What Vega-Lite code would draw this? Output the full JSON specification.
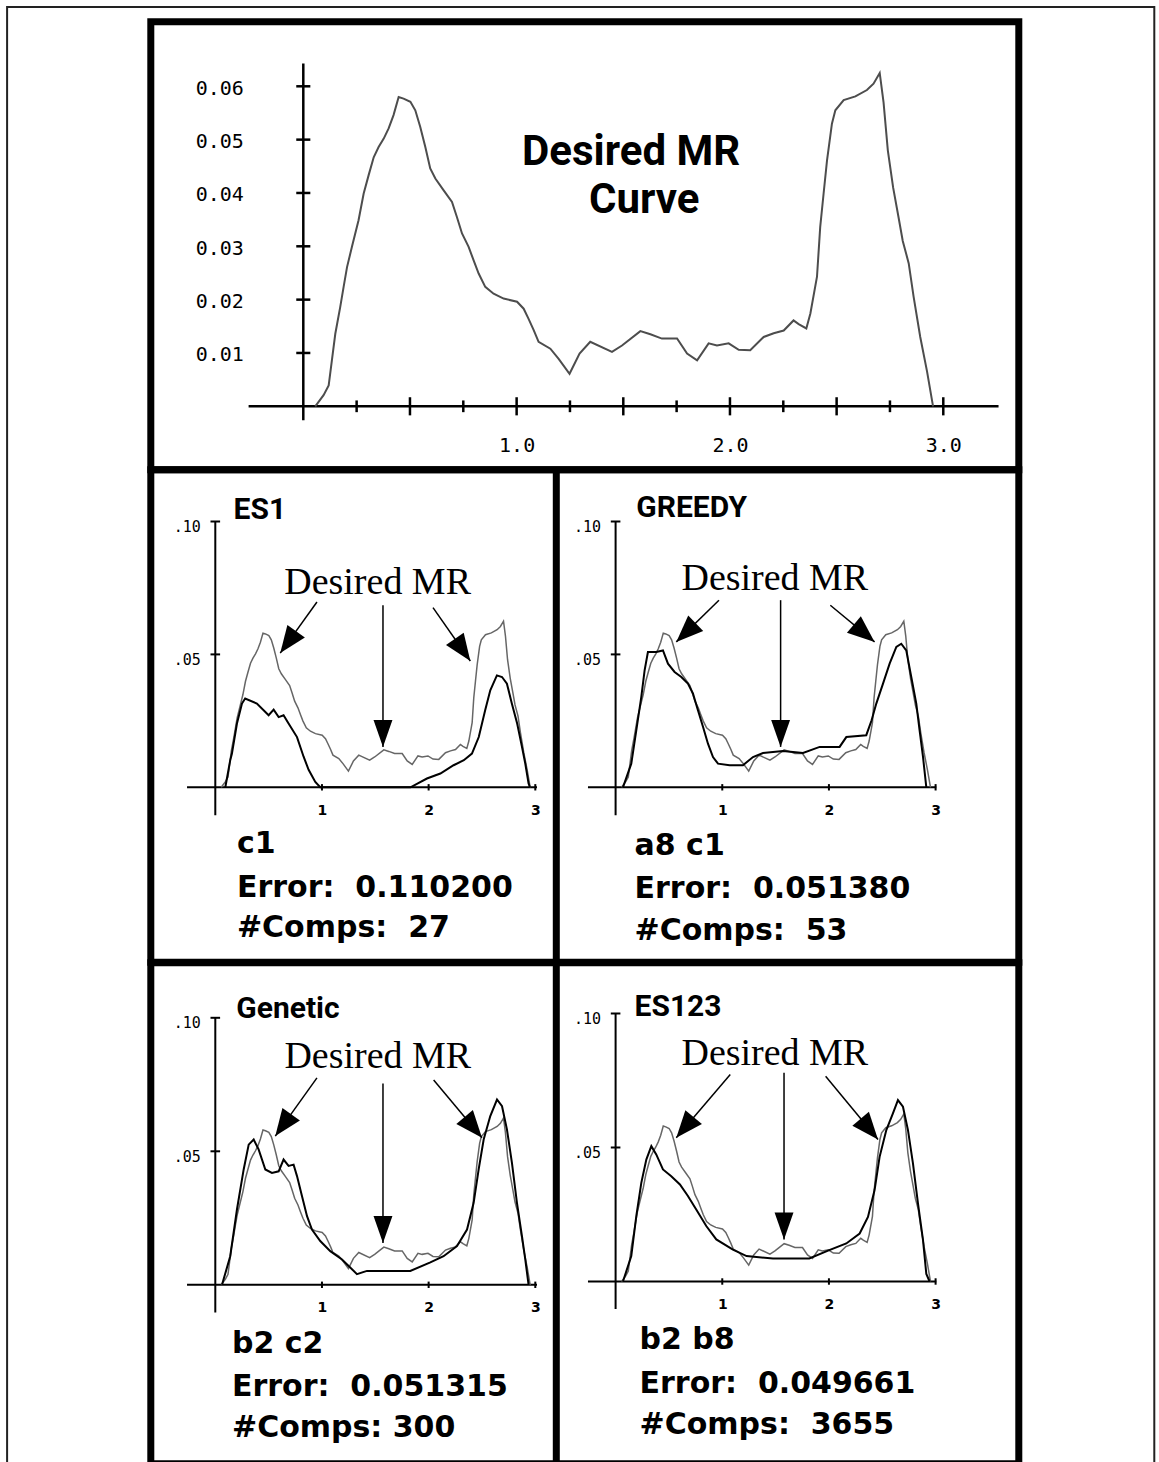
{
"$schema":"https://vega.github.io/schema/vega-lite/v6.json",
"background":"white",
"padding":{"left":1.8,"top":1.8,"right":9.5,"bottom":0},
"config":{"view":{"stroke":"black","strokeWidth":7},"concat":{"spacing":0}},
"datasets":{
"desired":[{"x":0.056,"y":0},{"x":0.095,"y":0.0021},{"x":0.119,"y":0.0039},{"x":0.134,"y":0.0086},{"x":0.15,"y":0.0136},{"x":0.173,"y":0.0186},{"x":0.189,"y":0.0224},{"x":0.205,"y":0.0261},{"x":0.228,"y":0.0299},{"x":0.259,"y":0.0349},{"x":0.283,"y":0.0399},{"x":0.306,"y":0.0433},{"x":0.33,"y":0.0467},{"x":0.353,"y":0.0486},{"x":0.377,"y":0.0502},{"x":0.4,"y":0.0521},{"x":0.423,"y":0.0546},{"x":0.447,"y":0.058},{"x":0.47,"y":0.0577},{"x":0.502,"y":0.0571},{"x":0.525,"y":0.0555},{"x":0.548,"y":0.0524},{"x":0.572,"y":0.0486},{"x":0.595,"y":0.0446},{"x":0.619,"y":0.0427},{"x":0.658,"y":0.0405},{"x":0.697,"y":0.0383},{"x":0.72,"y":0.0355},{"x":0.744,"y":0.0324},{"x":0.775,"y":0.0299},{"x":0.798,"y":0.0274},{"x":0.822,"y":0.0249},{"x":0.853,"y":0.0224},{"x":0.892,"y":0.0211},{"x":0.939,"y":0.0202},{"x":1.002,"y":0.0196},{"x":1.033,"y":0.0183},{"x":1.056,"y":0.0164},{"x":1.08,"y":0.0143},{"x":1.103,"y":0.0121},{"x":1.158,"y":0.0108},{"x":1.197,"y":0.0089},{"x":1.248,"y":0.0061},{"x":1.295,"y":0.0099},{"x":1.345,"y":0.0121},{"x":1.447,"y":0.0102},{"x":1.494,"y":0.0114},{"x":1.58,"y":0.0141},{"x":1.627,"y":0.0135},{"x":1.681,"y":0.0127},{"x":1.752,"y":0.0127},{"x":1.799,"y":0.0099},{"x":1.846,"y":0.0086},{"x":1.9,"y":0.0118},{"x":1.939,"y":0.0114},{"x":1.994,"y":0.0118},{"x":2.041,"y":0.0106},{"x":2.095,"y":0.0105},{"x":2.158,"y":0.013},{"x":2.205,"y":0.0137},{"x":2.252,"y":0.0142},{"x":2.298,"y":0.0161},{"x":2.322,"y":0.0154},{"x":2.358,"y":0.0146},{"x":2.377,"y":0.0174},{"x":2.408,"y":0.0243},{"x":2.423,"y":0.0336},{"x":2.439,"y":0.0399},{"x":2.455,"y":0.0461},{"x":2.478,"y":0.053},{"x":2.494,"y":0.0555},{"x":2.533,"y":0.0574},{"x":2.588,"y":0.0581},{"x":2.642,"y":0.0593},{"x":2.673,"y":0.0605},{"x":2.702,"y":0.0625},{"x":2.72,"y":0.057},{"x":2.74,"y":0.048},{"x":2.765,"y":0.041},{"x":2.79,"y":0.0355},{"x":2.81,"y":0.031},{"x":2.838,"y":0.0268},{"x":2.861,"y":0.0205},{"x":2.892,"y":0.013},{"x":2.924,"y":0.0065},{"x":2.952,"y":0}],
"es1":[{"x":0.094,"y":0},{"x":0.14,"y":0.0102},{"x":0.156,"y":0.0127},{"x":0.203,"y":0.024},{"x":0.25,"y":0.0315},{"x":0.28,"y":0.0334},{"x":0.39,"y":0.0315},{"x":0.5,"y":0.0271},{"x":0.547,"y":0.0292},{"x":0.594,"y":0.0264},{"x":0.64,"y":0.0271},{"x":0.687,"y":0.024},{"x":0.766,"y":0.0189},{"x":0.828,"y":0.0115},{"x":0.875,"y":0.0066},{"x":0.9375,"y":0.002},{"x":0.984,"y":0},{"x":1.83,"y":0},{"x":1.984,"y":0.0033},{"x":2.11,"y":0.0052},{"x":2.234,"y":0.0083},{"x":2.33,"y":0.0102},{"x":2.406,"y":0.0127},{"x":2.47,"y":0.0189},{"x":2.53,"y":0.029},{"x":2.578,"y":0.0365},{"x":2.64,"y":0.0421},{"x":2.688,"y":0.0415},{"x":2.734,"y":0.039},{"x":2.78,"y":0.0315},{"x":2.83,"y":0.024},{"x":2.875,"y":0.0152},{"x":2.906,"y":0.0089},{"x":2.937,"y":0.0014},{"x":2.95,"y":0}],
"greedy":[{"x":0.069,"y":0},{"x":0.147,"y":0.0089},{"x":0.194,"y":0.0214},{"x":0.241,"y":0.034},{"x":0.272,"y":0.044},{"x":0.303,"y":0.0509},{"x":0.381,"y":0.0509},{"x":0.444,"y":0.0515},{"x":0.491,"y":0.0465},{"x":0.553,"y":0.0434},{"x":0.616,"y":0.0415},{"x":0.678,"y":0.039},{"x":0.725,"y":0.0353},{"x":0.772,"y":0.029},{"x":0.82,"y":0.0227},{"x":0.866,"y":0.0164},{"x":0.913,"y":0.0114},{"x":0.96,"y":0.0089},{"x":1.069,"y":0.0083},{"x":1.194,"y":0.0083},{"x":1.288,"y":0.0114},{"x":1.382,"y":0.0129},{"x":1.569,"y":0.0137},{"x":1.757,"y":0.0129},{"x":1.913,"y":0.0152},{"x":2.1,"y":0.0152},{"x":2.163,"y":0.0189},{"x":2.35,"y":0.0196},{"x":2.4,"y":0.0252},{"x":2.444,"y":0.0315},{"x":2.507,"y":0.039},{"x":2.569,"y":0.0465},{"x":2.632,"y":0.0528},{"x":2.678,"y":0.054},{"x":2.725,"y":0.0515},{"x":2.772,"y":0.0415},{"x":2.819,"y":0.0315},{"x":2.85,"y":0.0214},{"x":2.882,"y":0.0114},{"x":2.913,"y":0}],
"genetic":[{"x":0.063,"y":0},{"x":0.14,"y":0.0107},{"x":0.203,"y":0.0282},{"x":0.266,"y":0.0432},{"x":0.313,"y":0.0525},{"x":0.36,"y":0.0544},{"x":0.406,"y":0.0507},{"x":0.469,"y":0.0432},{"x":0.531,"y":0.0419},{"x":0.594,"y":0.0425},{"x":0.64,"y":0.0469},{"x":0.687,"y":0.0445},{"x":0.734,"y":0.045},{"x":0.766,"y":0.0407},{"x":0.813,"y":0.0332},{"x":0.86,"y":0.0257},{"x":0.906,"y":0.0207},{"x":0.984,"y":0.0164},{"x":1.078,"y":0.0126},{"x":1.188,"y":0.0095},{"x":1.328,"y":0.004},{"x":1.422,"y":0.0052},{"x":1.828,"y":0.0052},{"x":2.016,"y":0.0084},{"x":2.14,"y":0.0107},{"x":2.266,"y":0.0145},{"x":2.36,"y":0.0207},{"x":2.422,"y":0.0307},{"x":2.469,"y":0.0432},{"x":2.516,"y":0.0544},{"x":2.578,"y":0.0632},{"x":2.641,"y":0.0694},{"x":2.688,"y":0.0669},{"x":2.734,"y":0.0582},{"x":2.781,"y":0.0457},{"x":2.828,"y":0.0307},{"x":2.875,"y":0.0182},{"x":2.906,"y":0.0095},{"x":2.937,"y":0}],
"es123":[{"x":0.069,"y":0},{"x":0.147,"y":0.0095},{"x":0.194,"y":0.0244},{"x":0.241,"y":0.0368},{"x":0.288,"y":0.0455},{"x":0.335,"y":0.0505},{"x":0.381,"y":0.0474},{"x":0.444,"y":0.0418},{"x":0.522,"y":0.0393},{"x":0.603,"y":0.0362},{"x":0.678,"y":0.0319},{"x":0.756,"y":0.0269},{"x":0.85,"y":0.0207},{"x":0.944,"y":0.0157},{"x":1.1,"y":0.0119},{"x":1.228,"y":0.0095},{"x":1.475,"y":0.0086},{"x":1.816,"y":0.0086},{"x":2.003,"y":0.0117},{"x":2.163,"y":0.0142},{"x":2.288,"y":0.0179},{"x":2.366,"y":0.0241},{"x":2.428,"y":0.0341},{"x":2.475,"y":0.0465},{"x":2.538,"y":0.0565},{"x":2.6,"y":0.0627},{"x":2.647,"y":0.0677},{"x":2.694,"y":0.0652},{"x":2.741,"y":0.0565},{"x":2.788,"y":0.044},{"x":2.835,"y":0.0291},{"x":2.882,"y":0.0154},{"x":2.913,"y":0.0028},{"x":2.944,"y":0}],
"arrows_es1":[{"arrow":"left","x":0.609,"y":0.0505,"x2":0.953,"y2":0.0697},{"arrow":"mid","x":1.572,"y":0.0152,"x2":1.572,"y2":0.0685},{"arrow":"right","x":2.391,"y":0.0475,"x2":2.041,"y2":0.0676}],
"arrows_greedy":[{"arrow":"left","x":0.569,"y":0.0547,"x2":0.969,"y2":0.0704},{"arrow":"mid","x":1.547,"y":0.0152,"x2":1.547,"y2":0.0704},{"arrow":"right","x":2.428,"y":0.0547,"x2":2.013,"y2":0.0685}],
"arrows_genetic":[{"arrow":"left","x":0.5625,"y":0.0557,"x2":0.953,"y2":0.0775},{"arrow":"mid","x":1.572,"y":0.0157,"x2":1.572,"y2":0.0754},{"arrow":"right","x":2.5,"y":0.0551,"x2":2.047,"y2":0.0767}],
"arrows_es123":[{"arrow":"left","x":0.569,"y":0.0536,"x2":1.075,"y2":0.0772},{"arrow":"mid","x":1.579,"y":0.0157,"x2":1.579,"y2":0.0779},{"arrow":"right","x":2.46,"y":0.053,"x2":1.969,"y2":0.0766}]
},
"bounds":"flush",
"spacing":0,
"vconcat":[
{
"width":868,"height":448,
"encoding":{
"x":{"field":"x","type":"quantitative","scale":{"domain":[-0.71486,3.35396],"nice":false,"zero":false},"axis":{"orient":"bottom","offset":-63.5,"values":[1,2,3],"format":".1f","domain":false,"ticks":false,"tickSize":0,"grid":false,"labelPadding":29,"labelFont":"DejaVu Sans Mono","labelFontSize":20,"labelColor":"black","title":null}},
"y":{"field":"y","type":"quantitative","scale":{"domain":[-0.011906,0.072094],"nice":false,"zero":false},"axis":{"orient":"left","offset":-152.5,"values":[0.01,0.02,0.03,0.04,0.05,0.06],"format":".2f","domain":false,"ticks":false,"tickSize":0,"grid":false,"labelPadding":60,"labelOffset":2,"labelFont":"DejaVu Sans Mono","labelFontSize":20,"labelColor":"black","title":null}}
},
"layer":[
{"data":{"values":[{"x":-1.38846,"y":0.07485,"x2":3.98912,"y2":-0.2004}]},"mark":{"type":"rect","filled":false,"color":"#222222","strokeWidth":2},"encoding":{"x2":{"field":"x2"},"y2":{"field":"y2"}}},
{"data":{"values":[{"x":0,"y":-0.002625,"x2":0,"y2":0.06426},{"x":-0.2564,"y":0,"x2":3.259,"y2":0},{"x":0.25,"y":-0.0011,"x2":0.25,"y2":0.0011},{"x":0.5,"y":-0.0017,"x2":0.5,"y2":0.0017},{"x":0.75,"y":-0.0011,"x2":0.75,"y2":0.0011},{"x":1,"y":-0.0017,"x2":1,"y2":0.0017},{"x":1.25,"y":-0.0011,"x2":1.25,"y2":0.0011},{"x":1.5,"y":-0.0017,"x2":1.5,"y2":0.0017},{"x":1.75,"y":-0.0011,"x2":1.75,"y2":0.0011},{"x":2,"y":-0.0017,"x2":2,"y2":0.0017},{"x":2.25,"y":-0.0011,"x2":2.25,"y2":0.0011},{"x":2.5,"y":-0.0017,"x2":2.5,"y2":0.0017},{"x":2.75,"y":-0.0011,"x2":2.75,"y2":0.0011},{"x":3,"y":-0.0017,"x2":3,"y2":0.0017},{"x":-0.033,"y":0.01,"x2":0.033,"y2":0.01},{"x":-0.033,"y":0.02,"x2":0.033,"y2":0.02},{"x":-0.033,"y":0.03,"x2":0.033,"y2":0.03},{"x":-0.033,"y":0.04,"x2":0.033,"y2":0.04},{"x":-0.033,"y":0.05,"x2":0.033,"y2":0.05},{"x":-0.033,"y":0.06,"x2":0.033,"y2":0.06}]},"mark":{"type":"rule","color":"black","strokeWidth":2.5},"encoding":{"x2":{"field":"x2"},"y2":{"field":"y2"}}},
{"data":{"name":"desired"},"mark":{"type":"line","color":"#4d4d4d","strokeWidth":2}},
{"data":{"values":[{"x":1.5366,"y":0.04519,"text":"Desired MR"},{"x":1.598,"y":0.03624,"text":"Curve"}]},"mark":{"type":"text","font":"Roboto","fontWeight":"bold","fontSize":42,"align":"center","baseline":"alphabetic","color":"black"},"encoding":{"text":{"field":"text"}}}
]
},
{
"width":868,"height":492.5,
"resolve":{"scale":{"x":"independent","y":"independent"},"axis":{"x":"independent","y":"independent"}},
"layer":[
{
"encoding":{
"x":{"field":"x","type":"quantitative","scale":{"domain":[-0.60469,7.5328],"nice":false,"zero":false},"axis":{"orient":"bottom","offset":-175,"values":[1,2,3],"format":"d","domain":false,"ticks":false,"tickSize":0,"grid":false,"labelPadding":16,"labelFont":"DejaVu Sans","labelFontWeight":"bold","labelFontSize":14,"labelColor":"black","title":null}},
"y":{"field":"y","type":"quantitative","scale":{"domain":[-0.065839,0.119451],"nice":false,"zero":false},"axis":{"orient":"left","offset":-64.5,"values":[0.05,0.1],"labelExpr":"slice(format(datum.value,'.2f'),1)","domain":false,"ticks":false,"tickSize":0,"grid":false,"labelPadding":15,"labelOffset":5,"labelFont":"DejaVu Sans Mono","labelFontSize":15,"labelColor":"black","title":null}}
},
"layer":[
{"data":{"values":[{"x":3.19687,"y":-0.065839,"x2":3.19687,"y2":0.119451}]},"mark":{"type":"rule","color":"black","strokeWidth":7},"encoding":{"x2":{"field":"x2"},"y2":{"field":"y2"}}},
{"data":{"values":[{"x":-0.265,"y":0,"x2":3.016,"y2":0},{"x":0,"y":-0.0105,"x2":0,"y2":0.1},{"x":1,"y":-0.0012,"x2":1,"y2":0.0012},{"x":2,"y":-0.0012,"x2":2,"y2":0.0012},{"x":3,"y":-0.0012,"x2":3,"y2":0.0012},{"x":-0.045,"y":0.05,"x2":0.045,"y2":0.05},{"x":-0.045,"y":0.1,"x2":0.045,"y2":0.1}]},"mark":{"type":"rule","color":"black","strokeWidth":2},"encoding":{"x2":{"field":"x2"},"y2":{"field":"y2"}}},
{"data":{"name":"desired"},"mark":{"type":"line","color":"#666666","strokeWidth":1.5}},
{"data":{"name":"es1"},"mark":{"type":"line","color":"#000000","strokeWidth":2}},
{"data":{"name":"arrows_es1"},"mark":{"type":"rule","color":"black","strokeWidth":1.5},"encoding":{"x2":{"field":"x2"},"y2":{"field":"y2"}}},
{"data":{"name":"arrows_es1"},"transform":[{"filter":"datum.arrow==='left'"}],"mark":{"type":"point","shape":"M0,0L-0.8,-2L0.8,-2Z","filled":true,"color":"black","opacity":1,"size":729,"angle":36,"strokeWidth":0}},
{"data":{"name":"arrows_es1"},"transform":[{"filter":"datum.arrow==='mid'"}],"mark":{"type":"point","shape":"M0,0L-0.7,-2L0.7,-2Z","filled":true,"color":"black","opacity":1,"size":729,"angle":0,"strokeWidth":0}},
{"data":{"name":"arrows_es1"},"transform":[{"filter":"datum.arrow==='right'"}],"mark":{"type":"point","shape":"M0,0L-0.8,-2L0.8,-2Z","filled":true,"color":"black","opacity":1,"size":729,"angle":-35,"strokeWidth":0}},
{"data":{"values":[{"x":0.1716,"y":0.1011,"text":"ES1"}]},"mark":{"type":"text","font":"Roboto","fontWeight":"bold","fontSize":30,"align":"left","baseline":"alphabetic","color":"black"},"encoding":{"text":{"field":"text"}}},
{"data":{"values":[{"x":1.5216,"y":0.07261,"text":"Desired MR"}]},"mark":{"type":"text","font":"Liberation Serif","fontSize":38,"align":"center","baseline":"alphabetic","color":"black"},"encoding":{"text":{"field":"text"}}},
{"data":{"values":[{"x":0.2034,"y":-0.02483,"text":"c1"},{"x":0.2034,"y":-0.04127,"text":"Error: \u00a00.110200"},{"x":0.2034,"y":-0.05632,"text":"#Comps: \u00a027"}]},"mark":{"type":"text","font":"DejaVu Sans","fontWeight":"bold","fontSize":30,"align":"left","baseline":"alphabetic","color":"black"},"encoding":{"text":{"field":"text"}}}
]
},
{
"encoding":{
"x":{"field":"x","type":"quantitative","scale":{"domain":[-4.3575,3.77999],"nice":false,"zero":false},"axis":{"orient":"bottom","offset":-175,"values":[1,2,3],"format":"d","domain":false,"ticks":false,"tickSize":0,"grid":false,"labelPadding":16,"labelFont":"DejaVu Sans","labelFontWeight":"bold","labelFontSize":14,"labelColor":"black","title":null}},
"y":{"field":"y","type":"quantitative","scale":{"domain":[-0.065839,0.119451],"nice":false,"zero":false},"axis":{"orient":"left","offset":-464.8,"values":[0.05,0.1],"labelExpr":"slice(format(datum.value,'.2f'),1)","domain":false,"ticks":false,"tickSize":0,"grid":false,"labelPadding":15,"labelOffset":5,"labelFont":"DejaVu Sans Mono","labelFontSize":15,"labelColor":"black","title":null}}
},
"layer":[
{"data":{"values":[{"x":-0.259,"y":0,"x2":3.006,"y2":0},{"x":0,"y":-0.0105,"x2":0,"y2":0.1},{"x":1,"y":-0.0012,"x2":1,"y2":0.0012},{"x":2,"y":-0.0012,"x2":2,"y2":0.0012},{"x":3,"y":-0.0012,"x2":3,"y2":0.0012},{"x":-0.045,"y":0.05,"x2":0.045,"y2":0.05},{"x":-0.045,"y":0.1,"x2":0.045,"y2":0.1}]},"mark":{"type":"rule","color":"black","strokeWidth":2},"encoding":{"x2":{"field":"x2"},"y2":{"field":"y2"}}},
{"data":{"name":"desired"},"mark":{"type":"line","color":"#666666","strokeWidth":1.5}},
{"data":{"name":"greedy"},"mark":{"type":"line","color":"#000000","strokeWidth":2}},
{"data":{"name":"arrows_greedy"},"mark":{"type":"rule","color":"black","strokeWidth":1.5},"encoding":{"x2":{"field":"x2"},"y2":{"field":"y2"}}},
{"data":{"name":"arrows_greedy"},"transform":[{"filter":"datum.arrow==='left'"}],"mark":{"type":"point","shape":"M0,0L-0.8,-2L0.8,-2Z","filled":true,"color":"black","opacity":1,"size":729,"angle":46,"strokeWidth":0}},
{"data":{"name":"arrows_greedy"},"transform":[{"filter":"datum.arrow==='mid'"}],"mark":{"type":"point","shape":"M0,0L-0.7,-2L0.7,-2Z","filled":true,"color":"black","opacity":1,"size":729,"angle":0,"strokeWidth":0}},
{"data":{"name":"arrows_greedy"},"transform":[{"filter":"datum.arrow==='right'"}],"mark":{"type":"point","shape":"M0,0L-0.8,-2L0.8,-2Z","filled":true,"color":"black","opacity":1,"size":729,"angle":-50,"strokeWidth":0}},
{"data":{"values":[{"x":0.194,"y":0.1017,"text":"GREEDY"}]},"mark":{"type":"text","font":"Roboto","fontWeight":"bold","fontSize":30,"align":"left","baseline":"alphabetic","color":"black"},"encoding":{"text":{"field":"text"}}},
{"data":{"values":[{"x":1.4928,"y":0.07412,"text":"Desired MR"}]},"mark":{"type":"text","font":"Liberation Serif","fontSize":38,"align":"center","baseline":"alphabetic","color":"black"},"encoding":{"text":{"field":"text"}}},
{"data":{"values":[{"x":0.178,"y":-0.02558,"text":"a8 c1"},{"x":0.178,"y":-0.04176,"text":"Error: \u00a00.051380"},{"x":0.178,"y":-0.05756,"text":"#Comps: \u00a053"}]},"mark":{"type":"text","font":"DejaVu Sans","fontWeight":"bold","fontSize":30,"align":"left","baseline":"alphabetic","color":"black"},"encoding":{"text":{"field":"text"}}}
]
}
]
},
{
"width":868,"height":501,
"resolve":{"scale":{"x":"independent","y":"independent"},"axis":{"x":"independent","y":"independent"}},
"layer":[
{
"encoding":{
"x":{"field":"x","type":"quantitative","scale":{"domain":[-0.60469,7.5328],"nice":false,"zero":false},"axis":{"orient":"bottom","offset":-179,"values":[1,2,3],"format":"d","domain":false,"ticks":false,"tickSize":0,"grid":false,"labelPadding":16,"labelFont":"DejaVu Sans","labelFontWeight":"bold","labelFontSize":14,"labelColor":"black","title":null}},
"y":{"field":"y","type":"quantitative","scale":{"domain":[-0.067041,0.120599],"nice":false,"zero":false},"axis":{"orient":"left","offset":-64.5,"values":[0.05,0.1],"labelExpr":"slice(format(datum.value,'.2f'),1)","domain":false,"ticks":false,"tickSize":0,"grid":false,"labelPadding":15,"labelOffset":5,"labelFont":"DejaVu Sans Mono","labelFontSize":15,"labelColor":"black","title":null}}
},
"layer":[
{"data":{"values":[{"x":3.19687,"y":-0.067041,"x2":3.19687,"y2":0.120599}]},"mark":{"type":"rule","color":"black","strokeWidth":7},"encoding":{"x2":{"field":"x2"},"y2":{"field":"y2"}}},
{"data":{"values":[{"x":-0.265,"y":0,"x2":3.016,"y2":0},{"x":0,"y":-0.0104,"x2":0,"y2":0.1},{"x":1,"y":-0.0012,"x2":1,"y2":0.0012},{"x":2,"y":-0.0012,"x2":2,"y2":0.0012},{"x":3,"y":-0.0012,"x2":3,"y2":0.0012},{"x":-0.045,"y":0.05,"x2":0.045,"y2":0.05},{"x":-0.045,"y":0.1,"x2":0.045,"y2":0.1}]},"mark":{"type":"rule","color":"black","strokeWidth":2},"encoding":{"x2":{"field":"x2"},"y2":{"field":"y2"}}},
{"data":{"name":"desired"},"mark":{"type":"line","color":"#666666","strokeWidth":1.5}},
{"data":{"name":"genetic"},"mark":{"type":"line","color":"#000000","strokeWidth":2}},
{"data":{"name":"arrows_genetic"},"mark":{"type":"rule","color":"black","strokeWidth":1.5},"encoding":{"x2":{"field":"x2"},"y2":{"field":"y2"}}},
{"data":{"name":"arrows_genetic"},"transform":[{"filter":"datum.arrow==='left'"}],"mark":{"type":"point","shape":"M0,0L-0.8,-2L0.8,-2Z","filled":true,"color":"black","opacity":1,"size":729,"angle":36,"strokeWidth":0}},
{"data":{"name":"arrows_genetic"},"transform":[{"filter":"datum.arrow==='mid'"}],"mark":{"type":"point","shape":"M0,0L-0.7,-2L0.7,-2Z","filled":true,"color":"black","opacity":1,"size":729,"angle":0,"strokeWidth":0}},
{"data":{"name":"arrows_genetic"},"transform":[{"filter":"datum.arrow==='right'"}],"mark":{"type":"point","shape":"M0,0L-0.8,-2L0.8,-2Z","filled":true,"color":"black","opacity":1,"size":729,"angle":-40,"strokeWidth":0}},
{"data":{"values":[{"x":0.197,"y":0.1,"text":"Genetic"}]},"mark":{"type":"text","font":"Roboto","fontWeight":"bold","fontSize":30,"align":"left","baseline":"alphabetic","color":"black"},"encoding":{"text":{"field":"text"}}},
{"data":{"values":[{"x":1.5234,"y":0.08127,"text":"Desired MR"}]},"mark":{"type":"text","font":"Liberation Serif","fontSize":38,"align":"center","baseline":"alphabetic","color":"black"},"encoding":{"text":{"field":"text"}}},
{"data":{"values":[{"x":0.1566,"y":-0.02536,"text":"b2 c2"},{"x":0.1566,"y":-0.04157,"text":"Error: \u00a00.051315"},{"x":0.1566,"y":-0.05719,"text":"#Comps: 300"}]},"mark":{"type":"text","font":"DejaVu Sans","fontWeight":"bold","fontSize":30,"align":"left","baseline":"alphabetic","color":"black"},"encoding":{"text":{"field":"text"}}}
]
},
{
"encoding":{
"x":{"field":"x","type":"quantitative","scale":{"domain":[-4.3575,3.77999],"nice":false,"zero":false},"axis":{"orient":"bottom","offset":-182.3,"values":[1,2,3],"format":"d","domain":false,"ticks":false,"tickSize":0,"grid":false,"labelPadding":16,"labelFont":"DejaVu Sans","labelFontWeight":"bold","labelFontSize":14,"labelColor":"black","title":null}},
"y":{"field":"y","type":"quantitative","scale":{"domain":[-0.068022,0.118918],"nice":false,"zero":false},"axis":{"orient":"left","offset":-464.8,"values":[0.05,0.1],"labelExpr":"slice(format(datum.value,'.2f'),1)","domain":false,"ticks":false,"tickSize":0,"grid":false,"labelPadding":15,"labelOffset":5,"labelFont":"DejaVu Sans Mono","labelFontSize":15,"labelColor":"black","title":null}}
},
"layer":[
{"data":{"values":[{"x":-0.259,"y":0,"x2":3.006,"y2":0},{"x":0,"y":-0.0103,"x2":0,"y2":0.1},{"x":1,"y":-0.0012,"x2":1,"y2":0.0012},{"x":2,"y":-0.0012,"x2":2,"y2":0.0012},{"x":3,"y":-0.0012,"x2":3,"y2":0.0012},{"x":-0.045,"y":0.05,"x2":0.045,"y2":0.05},{"x":-0.045,"y":0.1,"x2":0.045,"y2":0.1}]},"mark":{"type":"rule","color":"black","strokeWidth":2},"encoding":{"x2":{"field":"x2"},"y2":{"field":"y2"}}},
{"data":{"name":"desired"},"mark":{"type":"line","color":"#666666","strokeWidth":1.5}},
{"data":{"name":"es123"},"mark":{"type":"line","color":"#000000","strokeWidth":2}},
{"data":{"name":"arrows_es123"},"mark":{"type":"rule","color":"black","strokeWidth":1.5},"encoding":{"x2":{"field":"x2"},"y2":{"field":"y2"}}},
{"data":{"name":"arrows_es123"},"transform":[{"filter":"datum.arrow==='left'"}],"mark":{"type":"point","shape":"M0,0L-0.8,-2L0.8,-2Z","filled":true,"color":"black","opacity":1,"size":729,"angle":40,"strokeWidth":0}},
{"data":{"name":"arrows_es123"},"transform":[{"filter":"datum.arrow==='mid'"}],"mark":{"type":"point","shape":"M0,0L-0.7,-2L0.7,-2Z","filled":true,"color":"black","opacity":1,"size":729,"angle":0,"strokeWidth":0}},
{"data":{"name":"arrows_es123"},"transform":[{"filter":"datum.arrow==='right'"}],"mark":{"type":"point","shape":"M0,0L-0.8,-2L0.8,-2Z","filled":true,"color":"black","opacity":1,"size":729,"angle":-40,"strokeWidth":0}},
{"data":{"values":[{"x":0.178,"y":0.099,"text":"ES123"}]},"mark":{"type":"text","font":"Roboto","fontWeight":"bold","fontSize":30,"align":"left","baseline":"alphabetic","color":"black"},"encoding":{"text":{"field":"text"}}},
{"data":{"values":[{"x":1.4928,"y":0.08086,"text":"Desired MR"}]},"mark":{"type":"text","font":"Liberation Serif","fontSize":38,"align":"center","baseline":"alphabetic","color":"black"},"encoding":{"text":{"field":"text"}}},
{"data":{"values":[{"x":0.225,"y":-0.02522,"text":"b2 b8"},{"x":0.225,"y":-0.04142,"text":"Error: \u00a00.049661"},{"x":0.225,"y":-0.05694,"text":"#Comps: \u00a03655"}]},"mark":{"type":"text","font":"DejaVu Sans","fontWeight":"bold","fontSize":30,"align":"left","baseline":"alphabetic","color":"black"},"encoding":{"text":{"field":"text"}}}
]
}
]
}
]
}
